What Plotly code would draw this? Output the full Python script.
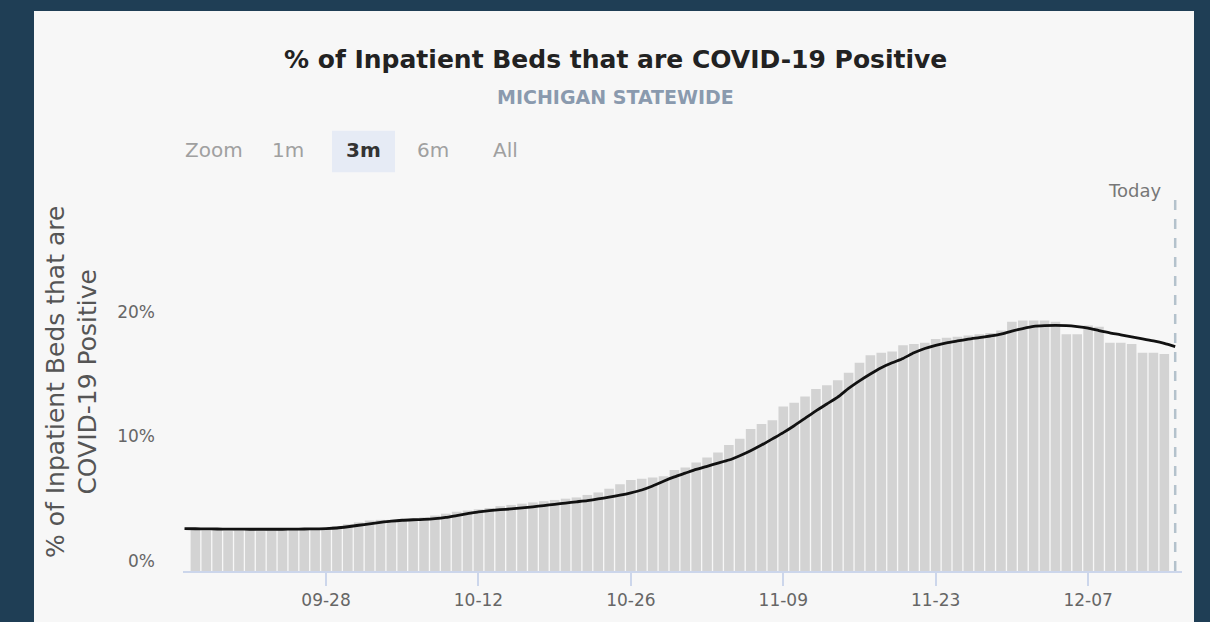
import pandas as pd
import plotly.graph_objects as go

# ---- data ----------------------------------------------------------------
# 7-day average share of inpatient beds that are COVID-19 positive (%)
avg_start = "2020-09-15"
bed_pct_avg = [
    3.40, 3.39, 3.38, 3.37, 3.36, 3.36, 3.35, 3.35, 3.35, 3.35,
    3.36, 3.37, 3.38, 3.40, 3.45, 3.55, 3.67, 3.78, 3.90, 4.00,
    4.07, 4.11, 4.14, 4.20, 4.30, 4.45, 4.60, 4.75, 4.85, 4.92,
    4.98, 5.06, 5.15, 5.25, 5.35, 5.45, 5.55, 5.65, 5.78, 5.92,
    6.08, 6.27, 6.50, 6.82, 7.20, 7.55, 7.85, 8.15, 8.40, 8.65,
    8.90, 9.25, 9.65, 10.10, 10.60, 11.10, 11.65, 12.25, 12.85, 13.40,
    13.95, 14.65, 15.25, 15.80, 16.30, 16.70, 17.05, 17.50, 17.85, 18.10,
    18.30, 18.45, 18.60, 18.72, 18.85, 19.00, 19.25, 19.45, 19.62, 19.68,
    19.70, 19.68, 19.60, 19.48, 19.28, 19.10, 18.95, 18.78, 18.62, 18.45,
    18.25, 18.00,
]

# daily share of inpatient beds that are COVID-19 positive (%)
daily_start = "2020-09-16"
bed_pct_daily = [
    3.30, 3.25, 3.30, 3.20, 3.25, 3.30, 3.20, 3.25, 3.30, 3.30,
    3.30, 3.35, 3.45, 3.60, 3.75, 3.90, 4.05, 4.10, 4.10, 4.15,
    4.20, 4.30, 4.45, 4.60, 4.75, 4.85, 4.95, 5.05, 5.20, 5.30,
    5.40, 5.50, 5.60, 5.70, 5.80, 5.90, 6.10, 6.30, 6.60, 6.95,
    7.30, 7.40, 7.50, 7.60, 8.10, 8.30, 8.70, 9.10, 9.50, 10.10,
    10.60, 11.40, 11.80, 12.10, 13.20, 13.50, 14.00, 14.60, 14.90, 15.30,
    15.90, 16.70, 17.30, 17.50, 17.60, 18.10, 18.20, 18.30, 18.60, 18.70,
    18.80, 18.90, 19.00, 19.10, 19.30, 20.00, 20.10, 20.10, 20.10, 20.00,
    19.00, 19.00, 19.70, 19.60, 18.30, 18.30, 18.20, 17.50, 17.50, 17.40,
]

y_tick_vals = [0, 10, 20]
y_tick_text = ["0%", "10%", "20%"]
today = "2020-12-15"
zoom_buttons = ["1m", "3m", "6m", "All"]
active_button = "3m"

avg_dates = pd.date_range(avg_start, periods=len(bed_pct_avg), freq="D")
daily_dates = pd.date_range(daily_start, periods=len(bed_pct_daily), freq="D")

# ---- page geometry (pixels) ----------------------------------------------
W, H = 1210, 622
PL, PR, PT, PB = 183, 1182, 197, 575


def px(x):
    return (x - PL) / (PR - PL)


def py(y):
    return (PB - y) / (PB - PT)


FONT = "DejaVu Sans"
NAVY = "#1f3e55"
PANEL = "#f7f7f7"

fig = go.Figure()

fig.add_trace(go.Bar(
    x=daily_dates, y=bed_pct_daily,
    marker=dict(color="#d3d3d3", line=dict(width=0)),
    hoverinfo="x+y", showlegend=False,
))

fig.add_trace(go.Scatter(
    x=avg_dates, y=bed_pct_avg, mode="lines",
    line=dict(color="#111111", width=2.8, shape="spline", smoothing=0.6),
    showlegend=False,
))

shapes = [
    # light card behind the chart
    dict(type="rect", xref="paper", yref="paper",
         x0=px(34), x1=px(1194), y0=py(640), y1=py(9),
         fillcolor=PANEL, line=dict(width=0), layer="below"),
    # highlight of the active zoom button
    dict(type="rect", xref="paper", yref="paper",
         x0=px(332), x1=px(395), y0=py(172), y1=py(130),
         fillcolor="#e6ebf5", line=dict(width=0), layer="below"),
    # "Today" marker
    dict(type="line", xref="x", yref="paper",
         x0=today, x1=today, y0=0, y1=1,
         line=dict(color="#b4c2cc", width=2.5, dash="10px,9px"), layer="above"),
]

annotations = [
    dict(text="<b>% of Inpatient Beds that are COVID-19 Positive</b>",
         xref="paper", yref="paper", x=px(615), y=py(58),
         xanchor="center", yanchor="middle", showarrow=False,
         font=dict(family=FONT, size=25, color="#222222")),
    dict(text="<b>MICHIGAN STATEWIDE</b>",
         xref="paper", yref="paper", x=px(615), y=py(96),
         xanchor="center", yanchor="middle", showarrow=False,
         font=dict(family=FONT, size=19, color="#8a9aae")),
    dict(text="% of Inpatient Beds that are<br>COVID-19 Positive",
         xref="paper", yref="paper", x=px(72), y=py(384),
         xanchor="center", yanchor="middle", showarrow=False, textangle=-90,
         font=dict(family=FONT, size=25, color="#555555")),
    dict(text="Today", xref="x", yref="paper", x=today, y=py(190),
         xanchor="right", yanchor="middle", xshift=-12, showarrow=False,
         font=dict(family=FONT, size=18, color="#777777")),
    dict(text="Zoom", xref="paper", yref="paper", x=px(183), y=py(149),
         xanchor="left", yanchor="middle", showarrow=False,
         font=dict(family=FONT, size=20, color="#a0a0a0")),
]

button_centers = [288, 363, 433, 505]
for label, cx in zip(zoom_buttons, button_centers):
    on = label == active_button
    annotations.append(dict(
        text=f"<b>{label}</b>" if on else label,
        xref="paper", yref="paper", x=px(cx), y=py(149),
        xanchor="center", yanchor="middle", showarrow=False,
        font=dict(family=FONT, size=20, color="#333333" if on else "#a0a0a0"),
    ))

fig.update_layout(
    width=W, height=H,
    margin=dict(l=PL, r=W - PR, t=PT, b=H - PB, pad=0),
    paper_bgcolor=NAVY, plot_bgcolor=PANEL,
    bargap=0.12,
    shapes=shapes, annotations=annotations,
    xaxis=dict(
        type="date",
        range=["2020-09-14 20:40", "2020-12-15 15:00"],
        tick0="2020-09-28", dtick=14 * 86400000, tickformat="%m-%d",
        ticks="outside", ticklen=13, tickwidth=2, tickcolor="#ccd6eb",
        showline=True, linecolor="#ccd6eb", linewidth=2,
        showgrid=False, zeroline=False,
        tickfont=dict(family=FONT, size=17, color="#666666"),
    ),
    yaxis=dict(
        range=[0, 30], tickvals=y_tick_vals, ticktext=y_tick_text,
        showgrid=False, zeroline=False, showline=False, ticks="",
        ticklabelshift=-10, ticklabelstandoff=27,
        tickfont=dict(family=FONT, size=17, color="#666666"),
    ),
)

fig.write_html("out.html")
